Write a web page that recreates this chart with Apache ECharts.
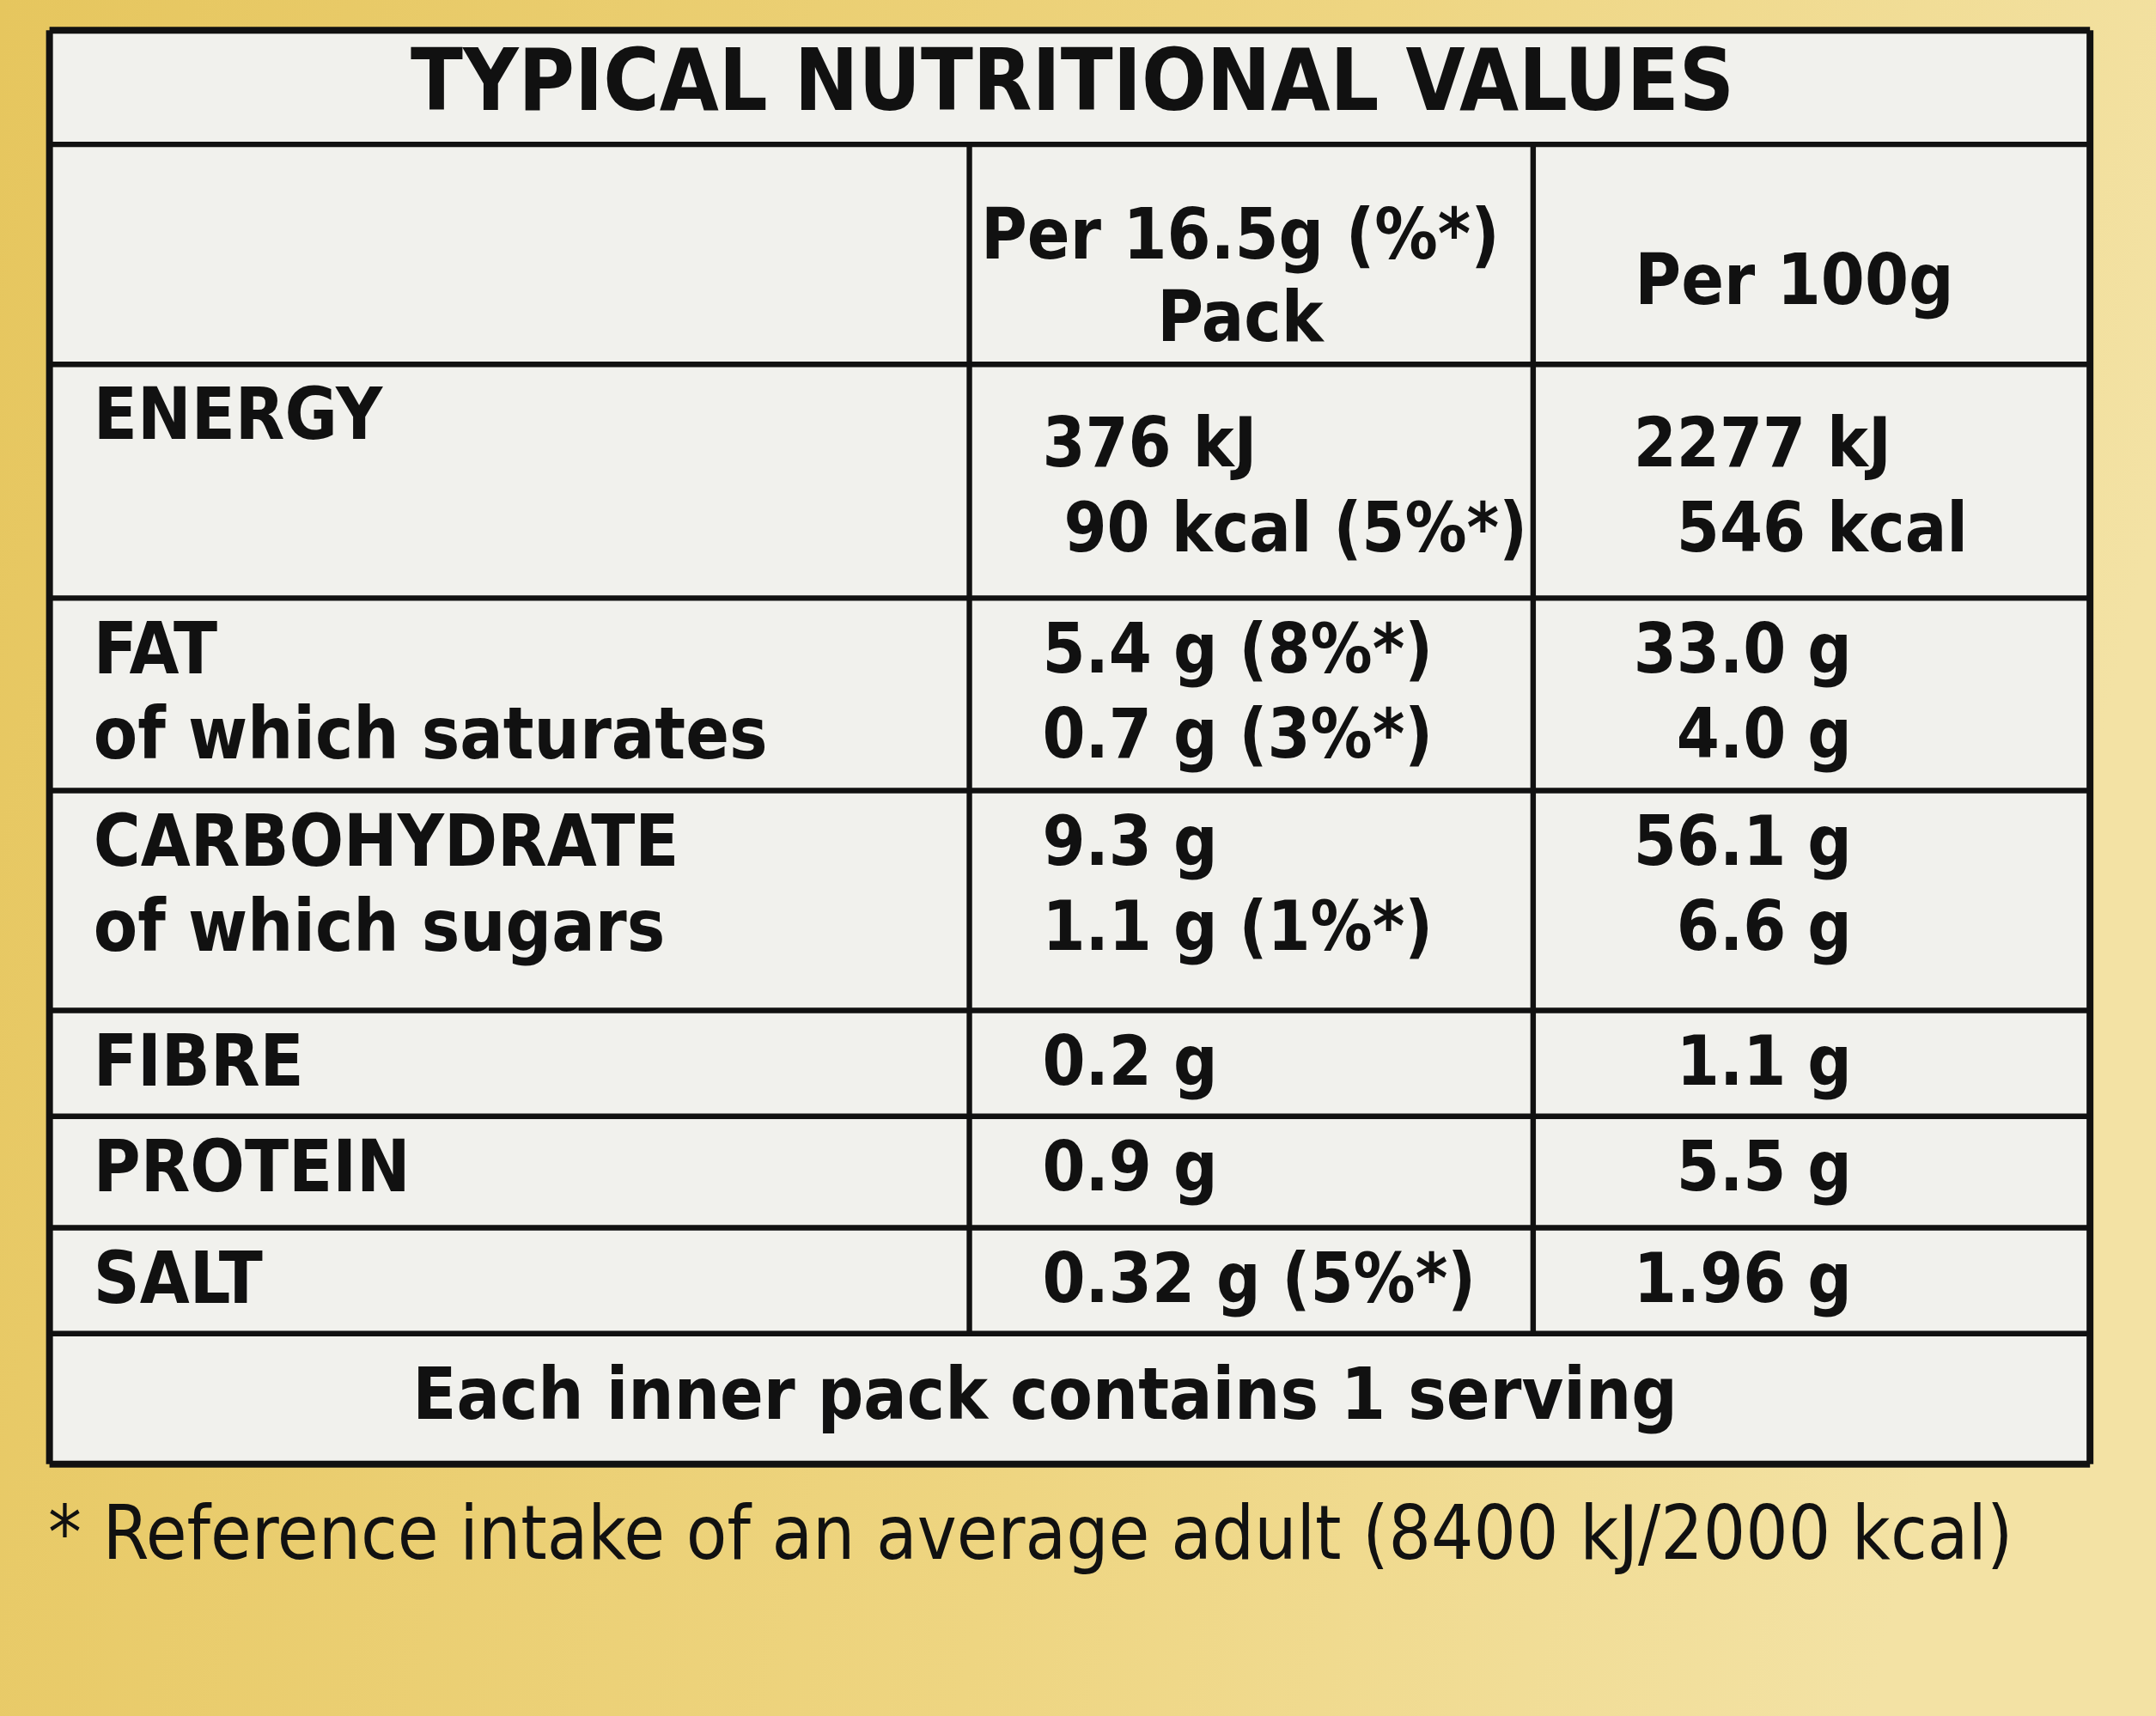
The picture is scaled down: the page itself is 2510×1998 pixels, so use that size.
<!DOCTYPE html>
<html><head><meta charset="utf-8">
<script src="https://cdn.jsdelivr.net/npm/echarts@6/dist/echarts.min.js"></script>
<style>html,body{margin:0;padding:0;}#c{width:2510px;height:1998px;}</style>
</head><body><div id="c"></div>
<script>
const title = "TYPICAL NUTRITIONAL VALUES";
const headers = ["Per 16.5g (%*)\nPack", "Per 100g"];
const rowLabels = [["ENERGY"], ["FAT", "of which saturates"], ["CARBOHYDRATE", "of which sugars"], ["FIBRE"], ["PROTEIN"], ["SALT"]];
const perPack = [["376 kJ", " 90 kcal (5%*)"], ["5.4 g (8%*)", "0.7 g (3%*)"], ["9.3 g", "1.1 g (1%*)"], ["0.2 g"], ["0.9 g"], ["0.32 g (5%*)"]];
const per100 = [["2277 kJ", "  546 kcal"], ["33.0 g", "  4.0 g"], ["56.1 g", "  6.6 g"], ["  1.1 g"], ["  5.5 g"], ["1.96 g"]];
const footer = "Each inner pack contains 1 serving";
const footnote = "* Reference intake of an average adult (8400 kJ/2000 kcal)";

const S = 2510 / 1568;
const FONT = "'DejaVu Sans Condensed','Liberation Sans Narrow',sans-serif";
const L = 36, R = 1520, T = 22, B = 1065;
const cols = [36, 705, 1115, 1520];
const rowEdges = [105, 265, 435, 575, 735, 812, 893, 970, 1065];
const g = [];
function line(x1, y1, x2, y2, w) {
  g.push({type: 'line', shape: {x1: x1*S, y1: y1*S, x2: x2*S, y2: y2*S}, style: {stroke: '#111', lineWidth: w*S}});
}
function text(t, x, y, size, align, weight, fill, lh) {
  g.push({type: 'text', x: x*S, y: y*S, style: {text: t, font: (weight||'bold') + ' ' + size*S + 'px ' + FONT, fill: fill||'#111', align: align||'left', verticalAlign: 'top', lineHeight: (lh||size*1.1)*S}});
}
g.push({type: 'rect', shape: {x: 0, y: 0, width: 2510, height: 1998}, style: {fill: {type: 'linear', x: 0, y: 0, x2: 1, y2: 0.3, colorStops: [{offset: 0, color: '#e6c65e'}, {offset: 0.6, color: '#eed581'}, {offset: 1, color: '#f3e2a4'}]}}});
g.push({type: 'rect', shape: {x: L*S, y: T*S, width: (R-L)*S, height: (B-T)*S}, style: {fill: '#f1f1ed'}});
line(L, T, R, T, 5); line(L, B, R, B, 5); line(L, T, L, B, 5); line(R, T, R, B, 5);
rowEdges.slice(0, -1).forEach(y => line(L, y, R, y, 4));
line(cols[1], rowEdges[0], cols[1], rowEdges[7], 4);
line(cols[2], rowEdges[0], cols[2], rowEdges[7], 4);
text(title, 780, 30, 62, 'center');
text(headers[0], 902, 145, 51, 'center', 'bold', '#111', 60);
text(headers[1], 1305, 180, 51, 'center');
rowLabels.forEach((lab, i) => {
  const y0 = rowEdges[i+1] + 10;
  text(lab.join('\n'), 68, y0, 52, 'left', 'bold', '#111', 62);
  text(perPack[i].join('\n'), 758, y0 + (i===0?20:0), 50, 'left', 'bold', '#111', 62);
  text(per100[i].join('\n'), 1188, y0 + (i===0?20:0), 50, 'left', 'bold', '#111', 62);
});
text(footer, 760, 990, 52, 'center');
text(footnote, 35, 1090, 54, 'left', 'normal', '#111');
const chart = echarts.init(document.getElementById('c'));
chart.setOption({animation: false, graphic: g});
</script></body></html>
